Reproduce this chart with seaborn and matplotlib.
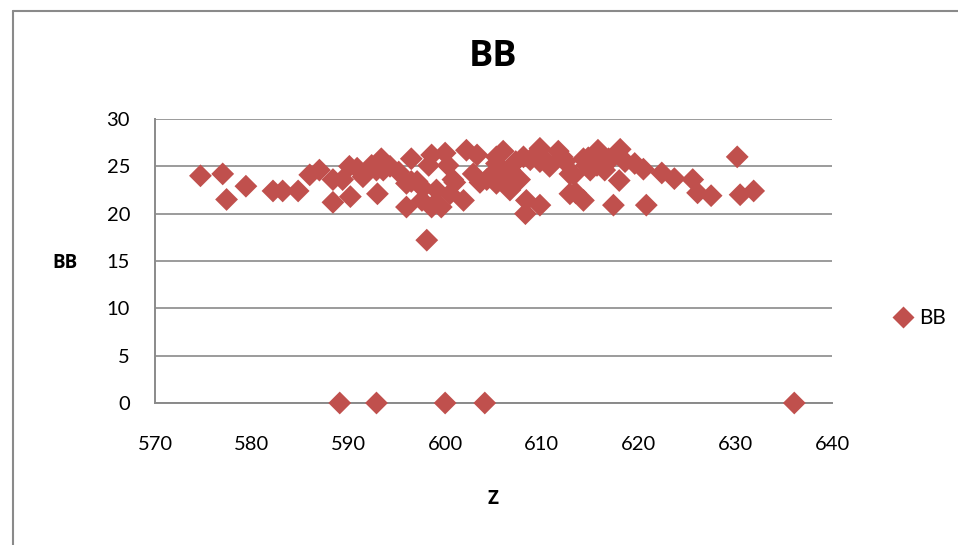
import matplotlib
matplotlib.use("Agg")
import matplotlib.pyplot as plt
import seaborn as sns
import pandas as pd
from matplotlib.lines import Line2D

# Data
z_values = [
    574.7, 577.0, 577.4, 579.4, 582.2, 583.2, 584.8, 586.0, 587.0, 588.4,
    588.4, 589.4, 590.1, 590.2, 590.9, 591.5, 593.0, 592.4, 593.4, 593.6,
    595.2, 596.0, 596.0,
    592.9, 596.5, 596.5, 597.1, 598.1, 598.6, 598.3, 600.0, 600.3, 602.2,
    603.3, 597.6, 598.6, 599.6, 599.1, 600.5, 601.9, 600.8, 602.9, 604.3,
    605.3, 605.0, 597.7, 594.3,
    606.0, 605.3, 606.7, 608.1, 609.8, 609.8, 610.8, 611.7, 612.9, 614.3,
    615.8, 615.7, 616.9, 605.3, 606.7, 608.4, 609.8, 608.3, 612.9, 614.3,
    607.7, 606.7, 604.6,
    605.7, 607.0, 607.3, 608.8, 610.3, 612.1, 612.4, 615.0, 616.5, 601.0,
    603.6, 613.3, 613.5, 614.6, 614.8,
    618.1, 616.7, 618.6, 619.6, 620.5, 622.4, 623.7, 625.6, 626.1, 627.5,
    618.0, 617.4, 620.8, 630.2, 630.5, 631.9,
    589.1, 592.9, 600.0, 604.1, 636.1,
]
bb_values = [
    24.0, 24.2, 21.5, 22.9, 22.4, 22.4, 22.4, 24.1, 24.6, 23.6,
    21.2, 23.6, 25.0, 21.8, 24.8, 23.9, 22.1, 25.1, 25.8, 24.6,
    24.4, 23.2, 20.7,
    24.6, 25.8, 23.4, 23.4, 17.2, 26.2, 25.1, 26.4, 25.1, 26.7,
    26.2, 21.4, 20.7, 20.7, 22.5, 22.1, 21.4, 23.6, 24.2, 23.6,
    26.0, 23.9, 22.7, 25.0,
    26.6, 25.3, 24.6, 26.0, 26.9, 25.5, 25.0, 26.6, 24.2, 25.8,
    26.7, 25.1, 25.8, 23.2, 22.5, 21.4, 20.9, 20.0, 22.1, 21.4,
    23.6, 23.6, 23.9,
    24.4, 24.1, 25.5, 25.7, 25.7, 26.0, 25.5, 24.6, 24.6, 23.3,
    23.3, 24.1, 22.2, 25.1, 25.9,
    26.8, 25.3, 25.5, 25.3, 24.7, 24.3, 23.7, 23.6, 22.2, 21.9,
    23.5, 20.9, 20.9, 26.0, 22.0, 22.4,
    0, 0, 0, 0, 0,
]
x_ticks = [570, 580, 590, 600, 610, 620, 630, 640]
y_ticks = [0, 5, 10, 15, 20, 25, 30]
series_name = "BB"
title_text = "BB"
x_label = "Z"
y_label = "BB"

df = pd.DataFrame({"Z": z_values, "BB": bb_values})

sns.set_theme(style="white")
plt.rcParams["font.family"] = ["Lato", "DejaVu Sans"]
plt.rcParams["text.color"] = "black"

W, H = 958, 545
fig = plt.figure(figsize=(W / 100, H / 100), dpi=100)
ax = fig.add_axes([155 / W, 1 - 403 / H, 677 / W, 284 / H])

color = "#C0504D"
sns.scatterplot(data=df, x="Z", y="BB", marker="D", s=135, color=color,
                edgecolor="none", linewidth=0, ax=ax, legend=False, zorder=3,
                clip_on=False)

ax.set_xlim(570, 640)
ax.set_ylim(0, 30)
ax.set_xticks(x_ticks)
ax.set_yticks(y_ticks)
ax.tick_params(axis="both", labelsize=14.5, colors="black", length=0)
ax.tick_params(axis="x", pad=24)
ax.tick_params(axis="y", pad=18)
ax.grid(axis="y", color="#8a8a8a", linewidth=1.2)
ax.grid(axis="x", visible=False)
for side in ["top", "right"]:
    ax.spines[side].set_visible(False)
for side in ["left", "bottom"]:
    ax.spines[side].set_color("#8a8a8a")
    ax.spines[side].set_linewidth(1.4)
ax.set_xlabel("")
ax.set_ylabel("")

bold_font = ["Open Sans", "DejaVu Sans"]
fig.text(493 / W, 1 - 57 / H, title_text, ha="center", va="center",
         fontsize=26, fontweight="bold", family=bold_font, color="black")
fig.text(65 / W, 1 - 263 / H, y_label, ha="center", va="center",
         fontsize=13.5, fontweight="bold", family=bold_font, color="black")
fig.text(493 / W, 1 - 499 / H, x_label, ha="center", va="center",
         fontsize=13.5, fontweight="bold", family=bold_font, color="black")

handle = Line2D([], [], marker="D", linestyle="none", markersize=11,
                markerfacecolor=color, markeredgecolor="none")
leg = fig.legend([handle], [series_name], loc="center left",
                 bbox_to_anchor=(893 / W, 1 - 318 / H), frameon=False,
                 fontsize=15, handletextpad=0.25, handlelength=1.0,
                 borderaxespad=0, borderpad=0, labelcolor="black")

# outer chart-area border (top and left edges visible)
bx, by = 12.5 / W, 1 - 10.5 / H
fig.add_artist(Line2D([bx, 1.0], [by, by], transform=fig.transFigure,
                      color="#8a8a8a", linewidth=1.5))
fig.add_artist(Line2D([bx, bx], [0.0, by], transform=fig.transFigure,
                      color="#8a8a8a", linewidth=1.5))

fig.savefig("out.png", dpi=100)
